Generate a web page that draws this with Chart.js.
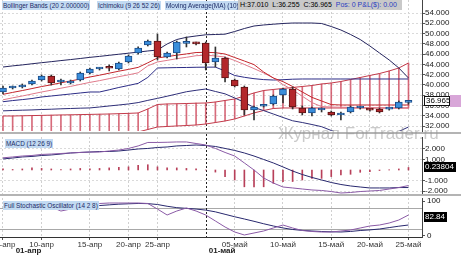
<!DOCTYPE html>
<html>
<head>
<meta charset="utf-8">
<script src="https://cdn.jsdelivr.net/npm/chart.js@4.4.1/dist/chart.umd.min.js"></script>
<style>
  body { margin: 0; width: 461px; height: 258px; overflow: hidden; background: #fff; position: relative; font-family: "Liberation Sans", Arial, sans-serif; }
  canvas { position: absolute; left: 0; }
  .tag { position: absolute; height: 9px; line-height: 9px; font-size: 6.4px; color: #1b2a66; background: #c2daf2; padding: 0 1px; white-space: nowrap; }
  .lvl { position: absolute; height: 10px; line-height: 10px; font-size: 8px; color: #111; white-space: nowrap; z-index: 5; }
  #hlc { position: absolute; left: 238px; top: 0; width: 164px; height: 10px; line-height: 10px; background: #c9c9c9; font-size: 7px; white-space: nowrap; padding-left: 2px; box-sizing: border-box; }
  #mark { position: absolute; left: 278px; top: 125px; font-size: 17px; line-height: 17px; color: rgba(150,150,150,.5); white-space: nowrap; }
</style>
</head>
<body>
<canvas id="main" width="461" height="134" style="top:0"></canvas>
<canvas id="macd" width="461" height="62" style="top:134px"></canvas>
<canvas id="stoch" width="461" height="62" style="top:196px"></canvas>
<div class="tag" style="left:2px;top:1px">Bollinger Bands (20 2.000000)</div>
<div class="tag" style="left:97px;top:1px">Ichimoku (9 26 52 26)</div>
<div class="tag" style="left:165px;top:1px;width:71px;overflow:hidden">Moving Average(MA) (10)</div>
<div id="hlc">H:37.010 &nbsp;L:36.255 &nbsp;C:36.965 &nbsp;<span style="color:#2a3cc0">Pos: 0 P&amp;L($): 0.00</span></div>
<div class="tag" style="left:5px;top:139px">MACD (12 26 9)</div>
<div class="tag" style="left:3px;top:201px">Full Stochastic Oscillator (14 2 8)</div>
<div id="mark">Журнал ForTrader.ru</div>
<script>
// x axis: candle index, date ticks
const tickIdx = [0, 4, 9, 13, 16, 24, 29, 34, 38, 42]
const tickNames = ['05-апр', '10-апр', '15-апр', '20-апр', '25-апр', '05-май', '10-май', '15-май', '20-май', '25-май']
const monthIdx = [1, 21]
const monthNames = ['01-апр', '01-май']

// price candles
const open = [38.63,39.41,39.60,40.19,40.96,41.74,40.58,40.38,40.96,42.33,43.11,43.30,43.11,44.47,46.22,47.77,48.55,45.44,46.22,48.10,48.16,48.16,44.47,45.25,40.96,39.60,35.13,35.85,36.30,38.05,39.21,35.52,34.55,35.13,34.74,34.16,34.74,35.52,35.15,35.32,35.30,35.52,36.60]
const high = [39.80,39.80,40.19,40.96,41.94,41.94,41.16,40.96,42.52,43.30,43.40,43.90,44.47,45.83,47.40,48.75,49.92,46.41,48.55,49.33,48.36,48.36,47.39,45.44,41.16,39.80,35.91,36.10,38.05,39.41,39.60,35.91,35.71,35.52,34.93,34.74,35.91,35.80,35.35,35.52,35.50,36.88,37.01]
const low = [38.24,39.21,39.41,40.00,40.77,39.99,39.99,40.19,40.77,42.13,42.90,42.72,42.91,44.27,46.00,47.58,44.86,45.25,45.05,47.39,47.80,42.91,43.49,40.58,39.60,34.16,33.18,35.70,36.10,36.49,35.32,34.16,33.96,34.74,33.96,33.18,34.55,35.30,34.90,34.55,35.10,35.32,36.255]
const close = [39.41,39.60,39.99,40.77,41.74,40.38,40.62,40.77,42.33,43.11,43.15,43.25,44.27,45.63,47.19,48.55,45.44,46.22,48.36,48.16,48.00,44.27,45.25,41.35,39.80,35.13,35.71,35.95,37.85,39.21,35.71,34.55,35.52,35.20,34.16,34.55,35.71,35.55,35.10,34.74,35.35,36.68,36.965]

// overlays
const bbUpper = [43.49,43.71,43.90,44.12,44.33,44.53,44.74,44.94,45.15,45.37,45.56,45.77,45.98,46.18,46.39,46.61,46.80,47.97,48.84,49.27,49.53,49.76,49.82,49.88,50.40,50.98,51.47,51.67,51.82,51.96,52.05,52.05,52.05,51.96,51.37,50.69,49.82,48.84,47.58,46.22,44.86,43.30,41.35]
const bbLower = [34.96,35.03,35.09,35.14,35.22,35.28,35.36,35.42,35.48,35.53,35.71,35.91,36.10,36.30,36.57,37.00,37.39,37.81,38.24,38.68,38.96,39.21,38.73,38.27,37.46,36.63,35.61,35.01,34.35,33.67,33.03,32.69,32.30,31.88,31.14,30.53,30.07,29.74,29.88,29.79,30.26,30.95,31.82]
const tenkan = [38.17,38.55,38.91,39.30,39.69,40.03,40.42,40.77,41.16,41.55,41.90,42.29,42.68,43.03,43.42,44.31,45.25,45.52,45.79,46.04,46.31,46.35,46.28,46.02,45.34,44.66,43.96,42.52,41.35,40.65,39.70,38.63,37.58,36.88,36.18,36.10,36.10,36.10,36.10,36.10,36.10,36.10,36.10]
const kijun = [36.74,36.96,37.15,37.36,37.66,37.85,38.05,38.24,38.44,38.63,38.63,39.06,39.51,39.90,40.31,41.47,43.30,43.34,43.38,43.40,43.44,43.46,43.47,42.72,41.84,41.49,41.22,41.04,40.96,41.02,41.12,41.16,41.16,41.16,41.16,41.16,41.16,41.16,41.16,41.16,41.16,41.16,41.16]
const ma10 = [37.11,37.50,37.85,38.24,38.63,38.98,39.37,39.72,40.11,40.50,40.84,41.23,41.62,41.97,42.36,43.71,44.47,44.78,45.11,45.38,45.69,45.77,45.65,45.44,44.76,43.98,43.18,42.33,41.39,40.07,39.04,37.81,36.57,35.79,35.71,35.67,35.63,35.59,35.56,35.52,35.52,35.52,35.52]
const spanA = [33.96,33.96,34.00,34.04,34.08,34.12,34.16,34.19,34.23,34.27,34.31,34.35,34.41,34.47,34.55,35.32,36.20,36.30,36.34,36.39,36.45,36.49,36.68,36.98,37.27,37.85,38.44,38.92,39.12,39.31,39.51,39.70,39.89,40.19,40.38,40.67,41.06,41.45,41.84,42.23,42.72,43.30,44.27]
const spanB = [30.85,30.85,30.85,30.85,30.85,30.85,30.85,30.85,30.85,30.85,30.85,30.85,30.85,30.85,30.85,31.33,31.82,31.92,32.02,32.11,32.21,32.40,32.69,32.99,33.38,33.96,34.55,35.03,35.42,35.52,35.52,35.52,35.52,35.52,35.52,35.52,35.52,35.52,35.52,35.52,35.52,35.52,35.52]

// MACD (12 26 9)
const macdLine = [1.16,1.24,1.33,1.38,1.48,1.52,1.57,1.62,1.67,1.71,1.71,1.81,1.9,2.05,2.29,2.62,2.62,2.64,2.67,2.67,2.52,2.38,2.05,1.67,1.33,0.67,0,-0.76,-1.24,-1.62,-1.71,-1.81,-1.9,-1.95,-2.05,-2.19,-2.14,-2.05,-2.0,-1.95,-1.81,-1.67,-1.48]
const macdSignal = [1.05,1.14,1.24,1.29,1.38,1.43,1.52,1.62,1.67,1.71,1.76,1.76,1.81,1.9,2.0,2.05,2.14,2.19,2.29,2.33,2.38,2.33,2.24,2.05,1.86,1.62,1.33,1.0,0.67,0.29,-0.1,-0.43,-0.71,-0.95,-1.19,-1.38,-1.52,-1.62,-1.71,-1.71,-1.71,-1.67,-1.67]
const macdHist = [0.1,0.05,0.1,0.2,0.15,0.1,0.05,0.1,0.15,0.1,0.15,0.2,0.25,0.3,0.45,0.5,0.3,0.2,0.2,0.15,0.1,0,-0.2,-0.63,-0.95,-1.6,-1.6,-1.6,-1.27,-1.1,-1.1,-0.95,-0.8,-0.8,-0.63,-0.48,-0.41,-0.22,-0.16,-0.05,0.02,0.1,0.24]

// Full stochastic (14 2 8)
const stochK = [88.6,88.6,87,85.7,85.7,82.9,71.4,77,88.6,91.4,92.9,94.3,94.3,94.3,94.3,92.9,77,60,71.4,80,71.4,60,42.9,25.7,11.4,2.9,8.6,14.3,22.9,31.4,22.9,15.7,12.9,11.4,11.4,14.3,17.1,22.9,28.6,31.4,37.1,45.7,60]
const stochD = [85.7,85.7,86,86,86.5,86.5,85,82,82,84,87,89,91,92,93,92.5,90,85,81,79,77,74,69,62,55,48.6,42,35,28.6,23,18.6,16,14.3,12.9,12,11.4,13,15.7,17.5,20,24,28,31.4]

const mainTicks = [32, 34, 36, 38, 40, 42, 44, 46, 48, 50, 52, 54]
const macdTicks = [-2, -1, 1, 2]
const stochTicks = [0, 100]
const stochLevels = [20, 80]
const lastClose = 36.965
const lastMacd = 0.23804
const lastStoch = 82.84

const FONT = '"Liberation Sans", Arial, sans-serif'
Chart.defaults.font.family = FONT

const pts = arr => arr.map((v, i) => ({ x: i, y: v }))
const span = (a, b) => a.map((v, i) => ({ x: i, y: [v, b[i]] }))
const up = close.map((c, i) => c >= open[i])

function xAxis(labels) {
  return {
    type: 'linear', min: -0.31, max: 43.4, offset: false,
    afterBuildTicks: s => { s.ticks = tickIdx.map(v => ({ value: v })) },
    afterFit: s => { s.paddingLeft = 0; s.paddingRight = 0; s.height = labels ? 21 : 0 },
    grid: { offset: false, color: '#d0d0d0', drawTicks: labels, tickLength: 3, tickColor: '#555' },
    border: { display: labels, color: '#333', dash: [2, 2] },
    ticks: { display: labels, autoSkip: false, maxRotation: 0, padding: 0, color: '#333', font: { size: 8 },
      callback: (v, i) => tickNames[i] }
  }
}

function yAxis(min, max, ticks, fmt, extra) {
  return Object.assign({
    position: 'right', min: min, max: max,
    afterBuildTicks: s => { s.ticks = ticks.map(v => ({ value: v })) },
    afterFit: s => { s.width = 39; s.paddingTop = 0; s.paddingBottom = 0 },
    grid: { color: '#dadada', tickLength: 3, tickColor: '#555' },
    border: { color: '#444', dash: [2, 2] },
    ticks: { autoSkip: false, padding: 0, color: '#222', font: { size: 8 }, callback: fmt }
  }, extra || {})
}

function line(data, color, order) {
  return { type: 'line', data: pts(data), borderColor: color, borderWidth: 1, pointRadius: 0, tension: 0, order: order }
}

const extras = {
  id: 'extras',
  beforeDatasetsDraw(chart) {
    const ctx = chart.ctx
    const area = chart.chartArea
    const x = Math.round(chart.scales.x.getPixelForValue(monthIdx[1])) + 0.5
    const bottom = chart.canvas.id === 'stoch' ? area.bottom : chart.height
    ctx.save()
    ctx.lineWidth = 1
    if (chart.canvas.id === 'stoch') {
      // overbought / oversold levels
      ctx.strokeStyle = '#a8a8a8'
      stochLevels.forEach(v => {
        const py = Math.round(chart.scales.y.getPixelForValue(v)) + 0.5
        ctx.beginPath(); ctx.moveTo(area.left, py); ctx.lineTo(area.right, py); ctx.stroke()
      })
    }
    ctx.strokeStyle = '#222'
    ctx.setLineDash([2, 2])
    ctx.beginPath(); ctx.moveTo(x, 0); ctx.lineTo(x, bottom); ctx.stroke()
    ctx.restore()
  },
  afterDraw(chart) {
    const ctx = chart.ctx
    const id = chart.canvas.id
    const ys = chart.scales.y
    const r = chart.chartArea.right
    ctx.save()
    ctx.font = '8px ' + FONT
    ctx.textBaseline = 'middle'
    ctx.textAlign = 'left'
    if (id !== 'stoch') {
      ctx.fillStyle = '#b4b4b4'
      ctx.fillRect(0, chart.height - 2, chart.width, 2)
    }
    if (id === 'main') {
      const py = Math.round(ys.getPixelForValue(lastClose))
      ctx.fillStyle = '#d8a6d8'
      ctx.fillRect(r + 28, py - 6, 12, 12)
      ctx.fillStyle = '#fff'
      ctx.fillRect(r + 2, py - 5, 26, 10)
      ctx.strokeStyle = '#111'
      ctx.strokeRect(r + 2.5, py - 4.5, 25, 9)
      ctx.fillStyle = '#000'
      ctx.fillText(lastClose.toFixed(3), r + 4, py)
    }
    if (id === 'macd') {
      const py = Math.round(ys.getPixelForValue(lastMacd))
      ctx.fillStyle = '#000'
      ctx.fillRect(r + 2, py - 5, 32, 10)
      ctx.fillStyle = '#fff'
      ctx.fillText(lastMacd.toFixed(5), r + 3, py)
    }
    if (id === 'stoch') {
      const py = Math.round(ys.getPixelForValue(stochK[stochK.length - 1])) + 2
      ctx.fillStyle = '#000'
      ctx.fillRect(r + 2, py - 5, 23, 10)
      ctx.fillStyle = '#fff'
      ctx.fillText(lastStoch.toFixed(2), r + 3, py)
      ctx.font = 'bold 8px ' + FONT
      ctx.fillStyle = '#222'
      monthIdx.forEach((m, k) => {
        ctx.fillText(monthNames[k], chart.scales.x.getPixelForValue(m) + 3, chart.chartArea.bottom + 14)
      })
    }
    ctx.restore()
  }
}

const base = {
  responsive: false, animation: false, events: [],
  plugins: { legend: { display: false }, tooltip: { enabled: false } }
}

new Chart(document.getElementById('main'), {
  type: 'line',
  data: {
    datasets: [
      { type: 'bar', data: span(open, close), grouped: false, barThickness: 7, minBarLength: 2,
        backgroundColor: up.map(u => u ? '#3a8edb' : '#b3272b'),
        borderColor: up.map(u => u ? '#1c4d8a' : '#5c1315'), borderWidth: 1, borderSkipped: false, order: 0 },
      { type: 'bar', data: span(low, high), grouped: false, barThickness: 1, backgroundColor: '#333', order: 1 },
      line(tenkan, '#c3262c', 2),
      line(ma10, '#e07a8a', 2),
      line(kijun, '#2c2c86', 3),
      line(bbUpper, '#25255e', 3),
      line(bbLower, '#2e2e78', 3),
      line(spanA, '#c23a4a', 5),
      line(spanB, '#c23a4a', 5),
      { type: 'bar', data: span(spanB, spanA), grouped: false, barThickness: 1, backgroundColor: 'rgba(205,70,90,0.8)', order: 6 }
    ]
  },
  options: Object.assign({}, base, {
    layout: { padding: { top: 0, bottom: 3, left: 0, right: 0 } },
    scales: {
      x: xAxis(false),
      y: yAxis(31.04, 56.53, mainTicks, v => v.toFixed(3))
    }
  }),
  plugins: [extras]
})

new Chart(document.getElementById('macd'), {
  type: 'line',
  data: {
    datasets: [
      line(macdLine, '#8a5aa6', 0),
      line(macdSignal, '#28286e', 1),
      { type: 'bar', data: pts(macdHist), grouped: false, barThickness: 1, backgroundColor: '#b8405a', order: 2 }
    ]
  },
  options: Object.assign({}, base, {
    layout: { padding: { top: 3, bottom: 1, left: 0, right: 0 } },
    scales: {
      x: xAxis(false),
      y: yAxis(-2.38, 3.14, macdTicks, v => v.toFixed(3))
    }
  }),
  plugins: [extras]
})

const stochChart = new Chart(document.getElementById('stoch'), {
  type: 'line',
  data: {
    datasets: [
      line(stochK, '#8a5aa6', 0),
      line(stochD, '#28286e', 1)
    ]
  },
  options: Object.assign({}, base, {
    layout: { padding: { top: 2, bottom: 0, left: 0, right: 0 } },
    scales: {
      x: xAxis(true),
      y: yAxis(-2.86, 108.6, stochTicks, v => String(v), {
        grid: { tickLength: 3, drawOnChartArea: false, color: '#555' },
        border: { color: '#444' },
        ticks: { display: false }
      })
    }
  }),
  plugins: [extras]
})

// stochastic scale labels as page text, placed from the chart's own y scale
const sy = stochChart.scales.y
const sCanvas = document.getElementById('stoch')
stochTicks.forEach(v => {
  const d = document.createElement('div')
  d.className = 'lvl'
  d.textContent = String(v)
  d.style.left = (sy.left + 5) + 'px'
  d.style.top = (sCanvas.offsetTop + Math.round(sy.getPixelForValue(v)) - 5) + 'px'
  document.body.appendChild(d)
})
</script>
</body>
</html>
